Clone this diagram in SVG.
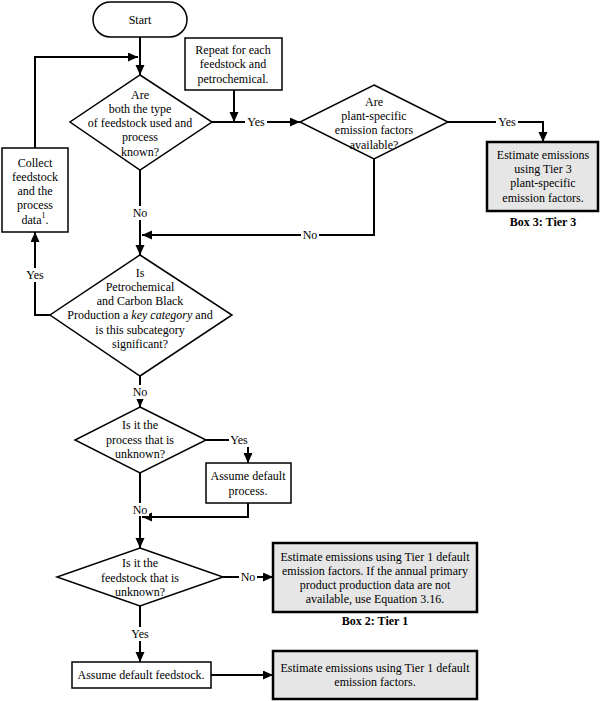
<svg xmlns="http://www.w3.org/2000/svg" width="601" height="701" viewBox="0 0 601 701">
<style>
text{font-family:"Liberation Serif","Times New Roman",serif;font-size:12px;fill:#000;text-anchor:middle;dominant-baseline:central}
.n{fill:#fff;stroke:#000;stroke-width:1.5}
.g{fill:#e6e6e6;stroke:#000;stroke-width:2.5}
.c{fill:none;stroke:#000;stroke-width:2}
.lb{fill:#fff}
.b{font-weight:bold}
</style>
<defs>
<marker id="ah" markerUnits="userSpaceOnUse" markerWidth="11" markerHeight="10" refX="10" refY="4.5" orient="auto">
<path d="M0,0 L10,4.5 L0,9 z" fill="#000"/>
</marker>
</defs>
<rect width="601" height="701" fill="#fff"/>
<g id="connectors">
<path class="c" d="M140,37 V75" marker-end="url(#ah)"/>
<path class="c" d="M35,148 V57 H138" marker-end="url(#ah)"/>
<path class="c" d="M212,122 H300" marker-end="url(#ah)"/>
<path class="c" d="M234,90 V122" marker-end="url(#ah)"/>
<path class="c" d="M448,122 H543 V142" marker-end="url(#ah)"/>
<path class="c" d="M374,159 V235 H142" marker-end="url(#ah)"/>
<path class="c" d="M140,170 V255" marker-end="url(#ah)"/>
<path class="c" d="M50,315 H35 V232" marker-end="url(#ah)"/>
<path class="c" d="M140,376 V407" marker-end="url(#ah)"/>
<path class="c" d="M206,440 H248 V463" marker-end="url(#ah)"/>
<path class="c" d="M248,503 V517 H142" marker-end="url(#ah)"/>
<path class="c" d="M140,473 V548" marker-end="url(#ah)"/>
<path class="c" d="M223,577 H273" marker-end="url(#ah)"/>
<path class="c" d="M140,606 V662" marker-end="url(#ah)"/>
<path class="c" d="M211,675 H273" marker-end="url(#ah)"/>
<rect class="lb" x="245" y="115" width="22" height="14"/><text x="256" y="122">Yes</text>
<rect class="lb" x="496" y="115" width="22" height="14"/><text x="507" y="122">Yes</text>
<rect class="lb" x="301" y="228" width="18" height="14"/><text x="310" y="235">No</text>
<rect class="lb" x="131" y="206" width="18" height="14"/><text x="140" y="213">No</text>
<rect class="lb" x="24" y="268" width="22" height="14"/><text x="35" y="275">Yes</text>
<rect class="lb" x="131" y="385" width="18" height="14"/><text x="140" y="392">No</text>
<rect class="lb" x="229" y="433" width="20" height="14"/><text x="239" y="440">Yes</text>
<rect class="lb" x="132" y="503" width="17" height="13"/><text x="140" y="510">No</text>
<rect class="lb" x="239" y="570" width="18" height="14"/><text x="248" y="577">No</text>
<rect class="lb" x="129" y="627" width="22" height="14"/><text x="140" y="634">Yes</text>
</g>
<g id="start">
<rect class="n" x="93" y="2" width="94" height="35" rx="17.5"/>
<text x="140" y="20">Start</text>
</g>
<g id="repeat">
<rect class="n" x="185" y="38" width="97" height="52"/>
<text x="233" y="50">Repeat for each</text>
<text x="233" y="64">feedstock and</text>
<text x="233" y="79">petrochemical.</text>
</g>
<g id="d1">
<path class="n" d="M140,75 L212,122 L140,170 L70,122 z"/>
<text x="140" y="95">Are</text>
<text x="140" y="109">both the type</text>
<text x="140" y="123">of feedstock used and</text>
<text x="140" y="137">process</text>
<text x="140" y="152">known?</text>
</g>
<g id="d2">
<path class="n" d="M374,85 L448,122 L374,159 L300,122 z"/>
<text x="374" y="102">Are</text>
<text x="374" y="116">plant-specific</text>
<text x="374" y="130">emission factors</text>
<text x="374" y="145">available?</text>
</g>
<g id="box3">
<rect class="g" x="487" y="142" width="111" height="69"/>
<text x="543" y="155">Estimate emissions</text>
<text x="543" y="169">using Tier 3</text>
<text x="543" y="183">plant-specific</text>
<text x="543" y="198">emission factors.</text>
<text class="b" x="543" y="222">Box 3: Tier 3</text>
</g>
<g id="collect">
<rect class="n" x="2" y="148" width="66" height="84"/>
<text x="35" y="163">Collect</text>
<text x="35" y="177">feedstock</text>
<text x="35" y="191">and the</text>
<text x="35" y="205">process</text>
<text x="35" y="220">data<tspan font-size="8" baseline-shift="super">1</tspan>.</text>
</g>
<g id="d3">
<path class="n" d="M140,255 L232,315 L140,376 L50,315 z"/>
<text x="140" y="273">Is</text>
<text x="140" y="287">Petrochemical</text>
<text x="140" y="301">and Carbon Black</text>
<text x="140" y="315">Production a <tspan font-style="italic">key category</tspan> and</text>
<text x="140" y="330">is this subcategory</text>
<text x="140" y="344">significant?</text>
</g>
<g id="d4">
<path class="n" d="M140,407 L206,440 L140,473 L75,440 z"/>
<text x="140" y="425">Is it the</text>
<text x="140" y="440">process that is</text>
<text x="140" y="454">unknown?</text>
</g>
<g id="assumeProcess">
<rect class="n" x="206" y="463" width="85" height="40"/>
<text x="248" y="476">Assume default</text>
<text x="248" y="491">process.</text>
</g>
<g id="d5">
<path class="n" d="M140,548 L223,577 L140,606 L57,577 z"/>
<text x="140" y="563">Is it the</text>
<text x="140" y="578">feedstock that is</text>
<text x="140" y="592">unknown?</text>
</g>
<g id="box2">
<rect class="g" x="273" y="543" width="204" height="69"/>
<text x="375" y="557">Estimate emissions using Tier 1 default</text>
<text x="375" y="571">emission factors. If the annual primary</text>
<text x="375" y="585">product production data are not</text>
<text x="375" y="599">available, use Equation 3.16.</text>
<text class="b" x="375" y="621">Box 2: Tier 1</text>
</g>
<g id="assumeFeedstock">
<rect class="n" x="72" y="662" width="139" height="26"/>
<text x="141" y="675">Assume default feedstock.</text>
</g>
<g id="box4">
<rect class="g" x="273" y="651" width="204" height="48"/>
<text x="375" y="668">Estimate emissions using Tier 1 default</text>
<text x="375" y="682">emission factors.</text>
</g>
</svg>
